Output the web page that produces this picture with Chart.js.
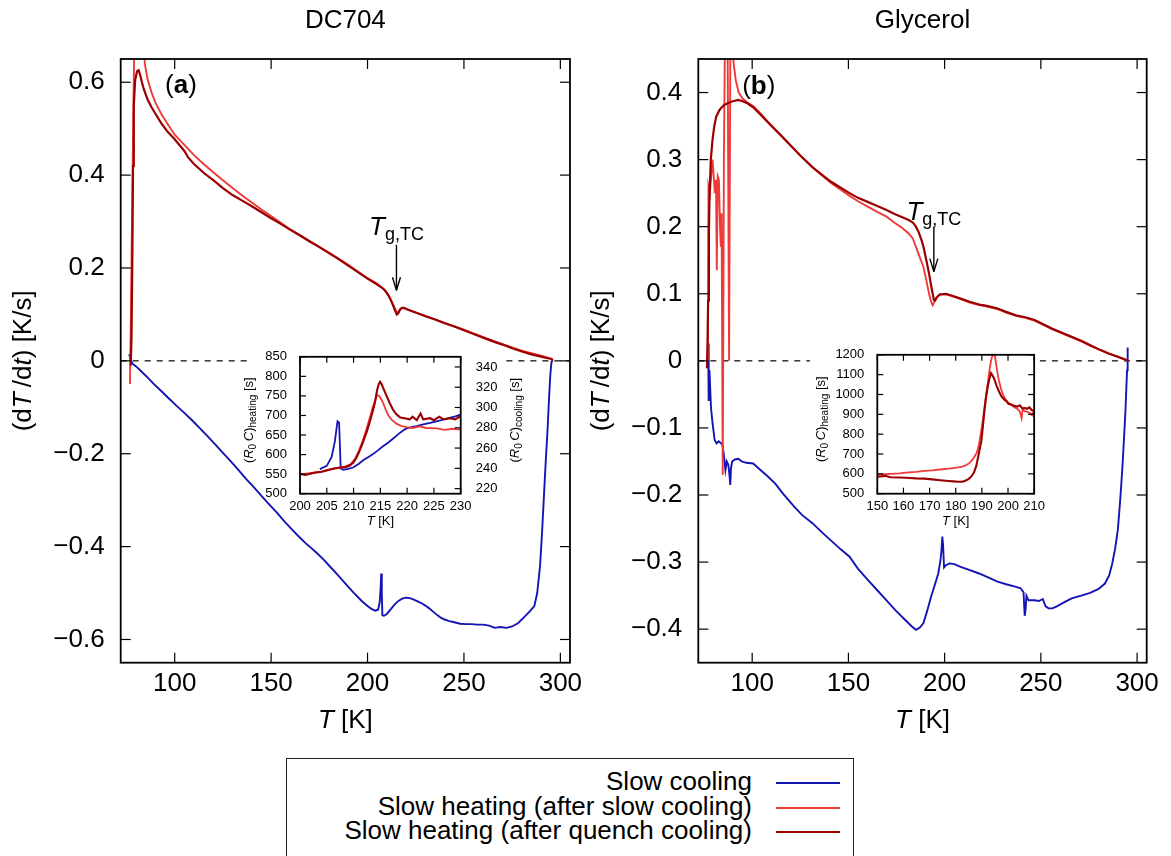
<!DOCTYPE html>
<html>
<head>
<meta charset="utf-8">
<script src="https://cdn.jsdelivr.net/npm/chart.js@4.4.1/dist/chart.umd.min.js"></script>
<style>
  html, body { margin: 0; padding: 0; background: #fff; }
  #page { position: relative; width: 1171px; height: 856px; overflow: hidden; font-family: "Liberation Sans", Arial, sans-serif; }
  canvas { position: absolute; }
  #legend { position: absolute; left: 286px; top: 758px; width: 568px; height: 120px; border: 1.5px solid #222; box-sizing: border-box; }
  .row { position: absolute; left: 0; width: 465px; text-align: right; font-size: 26px; line-height: 26px; color: #000; white-space: nowrap; }
  .swatch { position: absolute; left: 489px; width: 64px; height: 2px; }
</style>
</head>
<body>
<div id="page">
  <canvas id="mainA" width="590" height="750" style="left:0;top:0"></canvas>
  <canvas id="mainB" width="581" height="750" style="left:590px;top:0"></canvas>
  <canvas id="insetA" width="300" height="200" style="left:236px;top:334px"></canvas>
  <canvas id="insetB" width="250" height="200" style="left:800px;top:334px"></canvas>
  <div id="legend"></div>
</div>
<script>
// ---------- labels & ticks ----------
const legendLabels = ['Slow cooling', 'Slow heating (after slow cooling)', 'Slow heating (after quench cooling)'];
const panelTitles = ['DC704', 'Glycerol'];
const tempTicks = [100, 150, 200, 250, 300];
const aRateTicks = [-0.6, -0.4, -0.2, 0, 0.2, 0.4, 0.6];
const bRateTicks = [-0.4, -0.3, -0.2, -0.1, 0, 0.1, 0.2, 0.3, 0.4];
const aInsetTempTicks = [200, 205, 210, 215, 220, 225, 230];
const aInsetHeatTicks = [500, 550, 600, 650, 700, 750, 800, 850];
const aInsetCoolTicks = [220, 240, 260, 280, 300, 320, 340];
const bInsetTempTicks = [150, 160, 170, 180, 190, 200, 210];
const bInsetHeatTicks = [500, 600, 700, 800, 900, 1000, 1100, 1200];

// ---------- (a) DC704: dT/dt vs T ----------
const aCoolT = [76.4, 77.0, 78.1, 80, 83, 86, 89, 93, 97, 101, 105, 109, 113, 117, 121, 125, 129, 133, 137, 141, 145, 149, 153, 157, 161, 165, 168, 170, 173, 177, 181, 185, 189, 193, 197, 200, 202, 204, 205.5, 206.3, 206.8, 207.1, 207.4, 207.7, 208.5, 210, 212, 214, 216, 218, 220, 222, 224, 226, 228, 230, 232, 234, 236, 238, 240, 242, 245, 248, 251, 254, 257, 260, 263, 266, 269, 272, 275, 278, 281, 284, 286.5, 288, 289.5, 290.5, 291.5, 292.5, 293.4, 294.2, 294.8, 295.4, 296];
const aCoolRate = [0.014, 0.004, -0.006, -0.012, -0.024, -0.036, -0.049, -0.065, -0.081, -0.097, -0.112, -0.128, -0.145, -0.162, -0.180, -0.198, -0.216, -0.235, -0.254, -0.272, -0.291, -0.309, -0.327, -0.346, -0.364, -0.381, -0.393, -0.400, -0.411, -0.427, -0.445, -0.463, -0.482, -0.500, -0.517, -0.528, -0.534, -0.538, -0.536, -0.520, -0.490, -0.458, -0.500, -0.548, -0.549, -0.545, -0.535, -0.525, -0.517, -0.512, -0.510, -0.511, -0.514, -0.518, -0.522, -0.527, -0.533, -0.540, -0.547, -0.553, -0.557, -0.560, -0.563, -0.566, -0.567, -0.567, -0.568, -0.568, -0.570, -0.575, -0.573, -0.575, -0.572, -0.565, -0.553, -0.540, -0.528, -0.500, -0.440, -0.370, -0.290, -0.210, -0.145, -0.075, -0.030, -0.002, 0.0];
const aSlowT = [76.8, 77.3, 78.0, 78.6, 79.2, 83.6, 84.5, 86, 88, 90, 93, 96, 100, 105, 110, 115, 120, 125, 130, 135, 140, 145, 150, 160, 170, 180, 190, 200, 205, 208, 210, 212, 213.5, 215, 216, 217, 218, 220, 225, 230, 240, 250, 260, 270, 280, 290, 295, 296];
const aSlowRate = [-0.05, 0.10, 0.35, 0.55, 0.72, 0.72, 0.64, 0.605, 0.578, 0.556, 0.532, 0.512, 0.487, 0.465, 0.443, 0.424, 0.406, 0.389, 0.372, 0.356, 0.341, 0.326, 0.312, 0.283, 0.258, 0.233, 0.207, 0.178, 0.166, 0.156, 0.147, 0.132, 0.119, 0.106, 0.104, 0.111, 0.114, 0.112, 0.104, 0.097, 0.082, 0.067, 0.051, 0.036, 0.022, 0.011, 0.005, 0.001];
const aQuenchT = [77.2, 77.6, 78.0, 78.4, 78.8, 79.5, 80.5, 81.3, 82, 83, 84, 86, 88, 90, 93, 96, 100, 105, 107, 110, 115, 120, 125, 130, 135, 140, 145, 150, 155, 160, 165, 170, 175, 180, 185, 190, 195, 200, 204, 207, 209, 211, 212.5, 213.5, 214.5, 215.2, 216, 216.8, 217.8, 219, 221, 225, 230, 235, 240, 245, 250, 255, 260, 265, 270, 275, 280, 285, 290, 294, 295.5, 296];
const aQuenchRate = [-0.01, 0.05, 0.20, 0.42, 0.55, 0.605, 0.624, 0.626, 0.617, 0.600, 0.585, 0.562, 0.546, 0.532, 0.512, 0.495, 0.477, 0.452, 0.438, 0.424, 0.405, 0.389, 0.372, 0.357, 0.345, 0.333, 0.320, 0.307, 0.295, 0.282, 0.270, 0.257, 0.245, 0.232, 0.219, 0.205, 0.191, 0.177, 0.167, 0.159, 0.152, 0.140, 0.127, 0.117, 0.106, 0.100, 0.103, 0.110, 0.114, 0.114, 0.110, 0.104, 0.096, 0.089, 0.081, 0.074, 0.066, 0.058, 0.050, 0.042, 0.035, 0.027, 0.020, 0.014, 0.009, 0.005, 0.004, 0.0];

// ---------- (b) Glycerol: dT/dt vs T ----------
const bCoolT = [76.8, 77.1, 77.4, 77.8, 78.6, 79.4, 80.5, 81.5, 82.5, 83.5, 84.5, 85.2, 86.1, 86.8, 87.6, 88.2, 88.6, 89.0, 89.6, 91, 92.8, 94.6, 97, 100.5, 104, 108, 112, 116, 121.7, 126, 131.3, 136, 141, 146, 150.6, 155, 160.2, 165, 169.8, 174.5, 179.4, 183, 185.1, 187, 189, 191, 192.9, 194.8, 196.7, 197.8, 198.3, 198.8, 199.2, 199.7, 200.5, 202.5, 205, 208.3, 212, 217.9, 222, 227.5, 232, 237.1, 239.5, 241, 241.6, 242.1, 242.5, 243.6, 246.7, 249, 251, 252.5, 254, 256, 258.3, 262, 266, 271, 275.6, 280, 283.3, 285.5, 287.1, 288.6, 290, 291.3, 292.5, 293.3, 293.9, 294.5, 294.8, 295.0, 295.2];
const bCoolRate = [-0.005, 0.026, -0.060, -0.014, -0.070, -0.093, -0.118, -0.123, -0.120, -0.122, -0.125, -0.138, -0.163, -0.150, -0.155, -0.170, -0.185, -0.160, -0.150, -0.147, -0.146, -0.150, -0.152, -0.153, -0.162, -0.172, -0.183, -0.198, -0.217, -0.230, -0.242, -0.255, -0.268, -0.281, -0.292, -0.310, -0.327, -0.342, -0.357, -0.372, -0.386, -0.396, -0.401, -0.398, -0.391, -0.372, -0.352, -0.335, -0.317, -0.298, -0.285, -0.262, -0.275, -0.308, -0.305, -0.302, -0.303, -0.307, -0.311, -0.317, -0.322, -0.329, -0.333, -0.337, -0.339, -0.345, -0.380, -0.370, -0.350, -0.357, -0.357, -0.358, -0.355, -0.366, -0.369, -0.369, -0.366, -0.360, -0.354, -0.350, -0.346, -0.340, -0.332, -0.320, -0.302, -0.280, -0.252, -0.205, -0.153, -0.110, -0.078, -0.035, -0.014, 0.011, 0.020];
const bSlowT = [77.0, 77.3, 78.0, 78.8, 79.4, 80.0, 80.6, 81.2, 81.6, 82.1, 82.7, 83.3, 83.7, 84.1, 84.7, 85.3, 85.9, 86.5, 87.2, 88.0, 88.7, 89.5, 90.5, 91.5, 93, 95, 97.5, 100.5, 104.4, 108, 112, 116, 120, 125, 131, 136, 141, 146, 150.6, 155, 160, 165, 169.8, 174, 178, 181.3, 183.5, 185.1, 187, 189, 190.5, 191.9, 193, 193.8, 194.6, 196, 197.5, 200.6, 204, 208.3, 213, 218, 222, 227.5, 232, 237, 242, 246.7, 251, 256, 261, 266, 271, 276, 281, 285.2, 290, 294.8];
const bSlowRate = [0.0, 0.26, 0.25, 0.28, 0.30, 0.275, 0.25, 0.27, 0.135, 0.275, 0.27, 0.20, 0.17, 0.22, -0.17, 0.30, 0.50, 0.50, 0.50, 0.0, 0.50, 0.47, 0.44, 0.418, 0.400, 0.391, 0.385, 0.380, 0.369, 0.357, 0.345, 0.333, 0.321, 0.306, 0.289, 0.277, 0.265, 0.255, 0.246, 0.238, 0.230, 0.222, 0.215, 0.206, 0.198, 0.190, 0.182, 0.170, 0.155, 0.140, 0.120, 0.100, 0.088, 0.083, 0.088, 0.095, 0.099, 0.099, 0.096, 0.092, 0.087, 0.083, 0.081, 0.077, 0.072, 0.067, 0.064, 0.060, 0.054, 0.047, 0.041, 0.035, 0.029, 0.022, 0.016, 0.011, 0.006, 0.001];
const bQuenchT = [76.5, 76.8, 77.1, 77.5, 77.8, 78.5, 79.4, 80.3, 81.3, 83, 85.2, 88, 90, 92.8, 95, 97.5, 100.5, 104, 108, 112.1, 116, 120, 125, 131.3, 136, 141, 146, 150.6, 155, 160, 165, 169.8, 174, 178, 181.3, 183.5, 185.1, 186.5, 188, 189, 190.5, 191.9, 193, 193.8, 194.4, 195, 196, 197.5, 200.6, 204, 208.3, 213, 218, 222, 227.5, 232, 237, 242, 246.7, 251, 256, 261, 266, 271, 276, 281, 285.2, 290, 294.8, 295.5];
const bQuenchRate = [-0.011, 0.03, 0.09, 0.19, 0.24, 0.30, 0.33, 0.35, 0.364, 0.374, 0.381, 0.385, 0.387, 0.389, 0.387, 0.384, 0.378, 0.368, 0.356, 0.344, 0.333, 0.321, 0.306, 0.289, 0.278, 0.267, 0.258, 0.250, 0.243, 0.237, 0.231, 0.225, 0.219, 0.214, 0.210, 0.206, 0.200, 0.192, 0.180, 0.170, 0.150, 0.130, 0.112, 0.100, 0.091, 0.090, 0.095, 0.099, 0.100, 0.097, 0.093, 0.088, 0.084, 0.082, 0.078, 0.073, 0.068, 0.065, 0.061, 0.055, 0.048, 0.042, 0.036, 0.030, 0.023, 0.016, 0.011, 0.006, 0.001, 0.0];

// ---------- inset (a): R0C vs T ----------
const aInCoolT = [203.7, 205, 205.9, 206.5, 207.0, 207.3, 207.6, 208.1, 209, 209.9, 211, 211.8, 213, 213.7, 214.6, 215.5, 216.5, 217.4, 218.1, 218.7, 219.3, 219.9, 221, 221.8, 223, 224.3, 225.5, 227.4, 229, 230];
const aInCoolTau = [239.3, 242.4, 251.3, 266.3, 286.4, 285.0, 240.0, 238.5, 239.5, 240.8, 244.5, 248.0, 252.0, 254.3, 258.0, 261.7, 265.5, 269.4, 272.5, 275.2, 277.5, 279.4, 281.0, 281.7, 283.3, 284.8, 286.4, 289.1, 291.3, 292.9];
const aInSlowT = [200, 201.5, 203, 204.5, 206, 207.5, 208.5, 209.5, 210.3, 211, 211.7, 212.4, 213, 213.6, 214.1, 214.4, 214.8, 215.5, 216, 216.5, 217.2, 218, 219, 219.9, 221, 222.4, 223.5, 225.5, 227, 228.5, 230];
const aInSlowTau = [549, 552, 555, 557, 563, 566, 570, 576, 590, 610, 635, 665, 693, 722, 742, 752, 750, 733, 715, 700, 688, 679, 673, 670, 668, 672, 668, 667, 663, 666, 664];
const aInQuenchT = [200, 201, 202.5, 204, 205, 206.5, 207.5, 208.5, 209.3, 210, 210.6, 211.2, 211.8, 212.5, 213.1, 213.6, 214, 214.4, 214.7, 214.95, 215.2, 215.6, 216.2, 216.8, 217.4, 218, 218.7, 219.5, 220.5, 221, 221.8, 222.5, 223, 224.3, 225, 226, 226.8, 228, 229, 229.8, 230];
const aInQuenchTau = [551, 548, 553, 556, 560, 565, 567, 568, 572, 580, 594, 612, 633, 660, 687, 712, 734, 765, 780, 786, 781, 768, 749, 730, 714, 703, 695, 693, 690, 697, 688, 705, 690, 693, 688, 697, 690, 693, 690, 697, 695];

// ---------- inset (b): R0C vs T ----------
const bInSlowT = [150, 152, 155, 158.5, 161, 164.8, 168, 171, 174, 177.3, 179, 181, 182.5, 183.5, 185, 186, 187, 187.9, 188.6, 189.1, 189.8, 190.4, 191, 191.6, 192.3, 192.9, 193.5, 194.1, 194.6, 195.1, 195.6, 196, 196.6, 197.3, 198.2, 199.1, 200, 201, 202, 203.5, 204.5, 205.2, 205.6, 206.5, 207.3, 208.5, 209.2, 209.6, 210];
const bInSlowTau = [595, 598, 600, 602, 606, 610, 615, 618, 622, 626, 629, 633, 637, 641, 652, 665, 683, 703, 730, 765, 820, 874, 935, 998, 1060, 1122, 1170, 1200, 1210, 1185, 1140, 1107, 1065, 1029, 995, 975, 960, 951, 940, 928, 915, 880, 925, 915, 913, 905, 895, 910, 905];
const bInQuenchT = [150, 151, 153, 155, 158.5, 161, 164.8, 168, 171, 174, 177.3, 179, 181, 182.5, 183.5, 185, 186, 187, 187.9, 188.8, 189.8, 190.4, 191, 191.6, 192.3, 192.9, 193.5, 194.1, 194.8, 195.6, 196.6, 197.5, 198.5, 199.5, 200.2, 201, 202, 203.5, 204.5, 205.5, 206.5, 207.3, 208.2, 209, 210];
const bInQuenchTau = [585, 587, 590, 583, 582, 580, 577, 576, 572, 568, 564, 562, 560, 561, 564, 575, 587, 608, 641, 700, 765, 840, 921, 985, 1044, 1080, 1107, 1095, 1076, 1045, 1014, 990, 975, 965, 952, 951, 945, 939, 945, 930, 932, 928, 935, 922, 920];

// ---------- styling ----------
const COLORS = ['#1414b4', '#f03a3a', '#9b0000'];
const FONT = '"Liberation Sans", Arial, sans-serif';
Chart.defaults.font.family = FONT;
Chart.defaults.color = '#000';

const pts = (xs, ys) => xs.map((x, i) => ({ x: x, y: ys[i] }));
const fmtRate = v => v === 0 ? '0' : (v < 0 ? '\u2212' : '') + Math.abs(v).toFixed(1);

function seriesSets(cool, slow, quench, coolAxis, w) {
  const sets = [
    { label: legendLabels[2], data: quench, borderColor: COLORS[2], borderWidth: w + 0.3 },
    { label: legendLabels[1], data: slow, borderColor: COLORS[1], borderWidth: w }
  ];
  if (cool) sets.push({ label: legendLabels[0], data: cool, borderColor: COLORS[0], borderWidth: w, yAxisID: coolAxis });
  return sets.map(d => Object.assign({ pointRadius: 0, fill: false, tension: 0 }, d));
}

function fontStr(p, base) {
  return (p.i ? 'italic ' : '') + (p.b ? 'bold ' : '') + (p.s || base) + 'px ' + FONT;
}

// rich text: parts [{t, i, b, s, dy}], (x, y) is the baseline anchor
function drawRich(ctx, parts, x, y, base, align, rot) {
  ctx.save();
  ctx.translate(x, y);
  if (rot) ctx.rotate(rot);
  ctx.textAlign = 'left';
  ctx.textBaseline = 'alphabetic';
  ctx.fillStyle = '#000';
  let w = 0;
  const ws = parts.map(p => { ctx.font = fontStr(p, base); const m = ctx.measureText(p.t).width; w += m; return m; });
  let cx = align === 'center' ? -w / 2 : (align === 'right' ? -w : 0);
  parts.forEach((p, k) => { ctx.font = fontStr(p, base); ctx.fillText(p.t, cx, p.dy || 0); cx += ws[k]; });
  ctx.restore();
}

function line(ctx, x0, y0, x1, y1) {
  ctx.beginPath(); ctx.moveTo(x0, y0); ctx.lineTo(x1, y1); ctx.stroke();
}

// gnuplot-like frame with inward mirrored ticks and annotations
function framePlugin(cfg) {
  return {
    id: 'gnuFrame',
    beforeDatasetsDraw(chart) {
      if (!cfg.zero) return;
      const ctx = chart.ctx, xs = chart.scales.x, ys = chart.scales.y;
      const py = ys.getPixelForValue(0);
      ctx.save();
      ctx.setLineDash([6, 6]);
      ctx.lineWidth = 1.2;
      ctx.strokeStyle = '#000';
      cfg.zero.forEach(seg => line(ctx, xs.getPixelForValue(seg[0]), py, xs.getPixelForValue(seg[1]), py));
      ctx.restore();
    },
    afterDraw(chart) {
      const ctx = chart.ctx, a = chart.chartArea, xs = chart.scales.x, ys = chart.scales.y, y2 = chart.scales.y2;
      const tl = cfg.tick;
      ctx.save();
      ctx.strokeStyle = '#000';
      ctx.lineWidth = 1.2;
      xs.ticks.forEach(t => {
        const px = xs.getPixelForValue(t.value);
        line(ctx, px, a.bottom, px, a.bottom - tl);
        line(ctx, px, a.top, px, a.top + tl);
      });
      ys.ticks.forEach(t => {
        const py = ys.getPixelForValue(t.value);
        line(ctx, a.left, py, a.left + tl, py);
        if (!y2) line(ctx, a.right, py, a.right - tl, py);
      });
      if (y2) y2.ticks.forEach(t => {
        const py = y2.getPixelForValue(t.value);
        line(ctx, a.right, py, a.right - tl, py);
      });
      ctx.lineWidth = cfg.frame;
      ctx.strokeRect(a.left, a.top, a.right - a.left, a.bottom - a.top);
      ctx.restore();

      const fs = cfg.font, cxm = (a.left + a.right) / 2, cym = (a.top + a.bottom) / 2;
      if (cfg.title) drawRich(ctx, [{ t: cfg.title }], cxm, 27.5, fs, 'center');
      drawRich(ctx, cfg.xTitle, cxm, a.bottom + cfg.xTitleOff, fs, 'center');
      drawRich(ctx, cfg.yTitle, a.left - cfg.yTitleOff + fs * 0.26, cym + (cfg.yShift || 0), fs, 'center', -Math.PI / 2);
      if (cfg.y2Title) drawRich(ctx, cfg.y2Title, a.right + cfg.y2TitleOff + fs * 0.26, cym + (cfg.yShift || 0), fs, 'center', -Math.PI / 2);
      if (cfg.panel) {
        drawRich(ctx, [{ t: '(' }, { t: cfg.panel, b: true }, { t: ')' }],
          xs.getPixelForValue(cfg.panelAt[0]), ys.getPixelForValue(cfg.panelAt[1]) + fs * 0.26, fs, 'left');
      }
      if (cfg.tg) {
        const px = xs.getPixelForValue(cfg.tg.t);
        const p0 = ys.getPixelForValue(cfg.tg.from), p1 = ys.getPixelForValue(cfg.tg.to);
        ctx.save();
        ctx.strokeStyle = '#000';
        ctx.lineWidth = 1.4;
        line(ctx, px, p0, px, p1);
        line(ctx, px - 4, p1 - 13, px, p1);
        line(ctx, px + 4, p1 - 13, px, p1);
        ctx.restore();
        drawRich(ctx, [{ t: 'T', i: true }, { t: 'g,TC', s: 18, dy: 5 }], px, ys.getPixelForValue(cfg.tg.label), fs, 'center');
      }
    }
  };
}

function axis(min, max, ticks, size, pad, fmt, fitKey, fitVal, pos) {
  return {
    type: 'linear', min: min, max: max, position: pos,
    afterBuildTicks: s => { s.ticks = ticks.map(v => ({ value: v })); },
    afterFit: s => { s[fitKey] = fitVal; },
    grid: { display: false, drawTicks: false },
    border: { display: false },
    ticks: { font: { size: size }, color: '#000', padding: pad, autoSkip: false, maxRotation: 0, callback: fmt }
  };
}

function makeChart(id, datasets, scales, padding, cfg) {
  return new Chart(document.getElementById(id), {
    type: 'line',
    data: { datasets: datasets },
    options: {
      responsive: false, animation: false, devicePixelRatio: 1,
      layout: { padding: padding },
      plugins: { legend: { display: false }, tooltip: { enabled: false }, title: { display: false } },
      scales: scales
    },
    plugins: [framePlugin(cfg)]
  });
}

const mainYTitle = [{ t: '(d' }, { t: 'T', i: true }, { t: '\u2009/d' }, { t: 't', i: true }, { t: ') [K/s]' }];
const mainXTitle = [{ t: 'T', i: true }, { t: ' [K]' }];
const inXTitle = [{ t: 'T', i: true }, { t: ' [K]' }];
const inTitle = sub => [{ t: '(' }, { t: 'R', i: true }, { t: '0', s: 10, dy: 3 }, { t: '\u2009' }, { t: 'C', i: true }, { t: ')' }, { t: sub, s: 10, dy: 3 }, { t: ' [s]' }];
const str = v => String(v);

// panel (a)
makeChart('mainA',
  seriesSets(pts(aCoolT, aCoolRate), pts(aSlowT, aSlowRate), pts(aQuenchT, aQuenchRate), 'y', 1.9),
  {
    x: axis(72, 305, tempTicks, 26, 6, str, 'height', 87.3, 'bottom'),
    y: axis(-0.65, 0.65, aRateTicks, 26, 16, fmtRate, 'width', 120.7, 'left')
  },
  { left: 0, right: 20, top: 59, bottom: 0 },
  { font: 26, tick: 10, frame: 1.8, title: panelTitles[0], xTitle: mainXTitle, xTitleOff: 65, yTitle: mainYTitle, yTitleOff: 96,
    panel: 'a', panelAt: [95.0, 0.591], tg: { t: 215.0, from: 0.25, to: 0.152, label: 0.27 }, zero: [[72, 139.3], [272, 305]] });

// panel (b)
makeChart('mainB',
  seriesSets(pts(bCoolT, bCoolRate), pts(bSlowT, bSlowRate), pts(bQuenchT, bQuenchRate), 'y', 1.9),
  {
    x: axis(72, 305, tempTicks, 26, 6, str, 'height', 87.3, 'bottom'),
    y: axis(-0.45, 0.45, bRateTicks, 26, 16, fmtRate, 'width', 108.3, 'left')
  },
  { left: 0, right: 24.3, top: 59, bottom: 0 },
  { font: 26, tick: 10, frame: 1.8, title: panelTitles[1], xTitle: mainXTitle, xTitleOff: 65, yTitle: mainYTitle, yTitleOff: 96,
    panel: 'b', panelAt: [94.8, 0.4075], tg: { t: 194.4, from: 0.2, to: 0.133, label: 0.21 }, zero: [[72, 130], [249.5, 305]] });

// inset (a)
makeChart('insetA',
  seriesSets(pts(aInCoolT, aInCoolTau), pts(aInSlowT, aInSlowTau), pts(aInQuenchT, aInQuenchTau), 'y2', 1.8),
  {
    x: axis(200, 230, aInsetTempTicks, 13, 5, str, 'height', 40.3, 'bottom'),
    y: axis(500, 850, aInsetHeatTicks, 13, 13, str, 'width', 64, 'left'),
    y2: axis(215, 350, aInsetCoolTicks, 13, 15, str, 'width', 75.3, 'right')
  },
  { left: 0, right: 0, top: 9.3, bottom: 0 },
  { font: 13, tick: 6, frame: 1.8, xTitle: inXTitle, xTitleOff: 31, yTitle: inTitle('heating'), yTitleOff: 50,
    y2Title: inTitle('cooling'), y2TitleOff: 55, yShift: -5 });

// inset (b)
makeChart('insetB',
  seriesSets(null, pts(bInSlowT, bInSlowTau), pts(bInQuenchT, bInQuenchTau), 'y', 1.8),
  {
    x: axis(150, 210, bInsetTempTicks, 13, 5, str, 'height', 40.3, 'bottom'),
    y: axis(500, 1200, bInsetHeatTicks, 13, 13, str, 'width', 77.3, 'left')
  },
  { left: 0, right: 12.7, top: 9.3, bottom: 0 },
  { font: 13, tick: 6, frame: 1.8, xTitle: inXTitle, xTitleOff: 31, yTitle: inTitle('heating'), yTitleOff: 56, yShift: -5 });

// legend (gnuplot style: text right-aligned, sample line on the right)
const legend = document.getElementById('legend');
const rowCenters = [22, 46.5, 71];
legendLabels.forEach((lab, k) => {
  const r = document.createElement('div');
  r.className = 'row';
  r.style.top = (rowCenters[k] - 13) + 'px';
  r.textContent = lab;
  legend.appendChild(r);
  const s = document.createElement('div');
  s.className = 'swatch';
  s.style.top = (rowCenters[k] + 1) + 'px';
  s.style.background = COLORS[k];
  legend.appendChild(s);
});
</script>
</body>
</html>
